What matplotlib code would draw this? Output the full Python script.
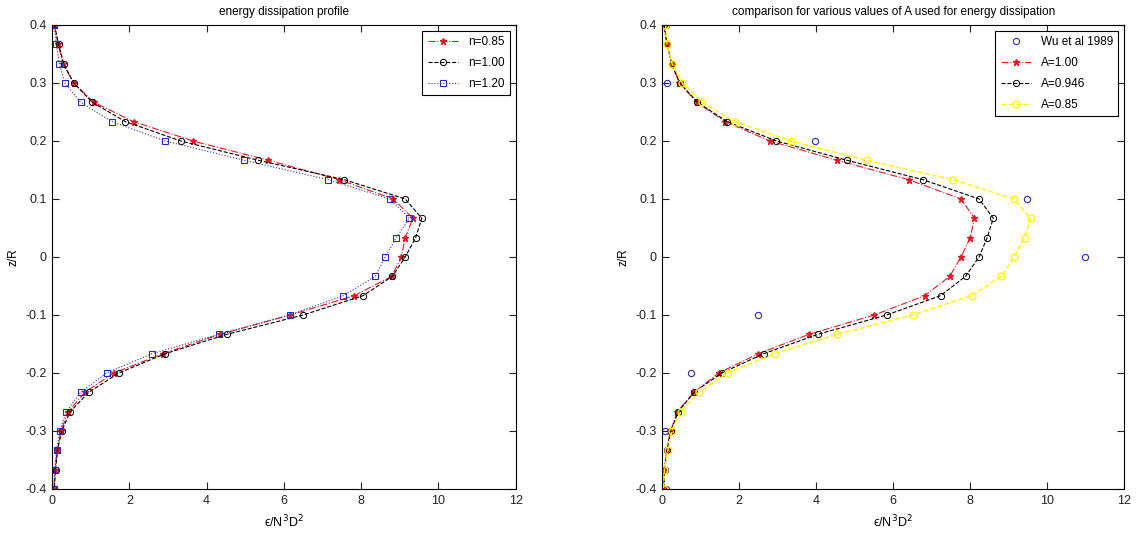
import matplotlib.pyplot as plt
import numpy as np

plt.rcParams['font.family'] = ['Liberation Sans', 'DejaVu Sans']
plt.rcParams['font.size'] = 8

# z/R levels, top to bottom
z = [0.4, 0.3667, 0.3333, 0.3, 0.2667, 0.2333, 0.2, 0.1667, 0.1333, 0.1, 0.0667, 0.0333, 0.0,
     -0.0333, -0.0667, -0.1, -0.1333, -0.1667, -0.2, -0.2333, -0.2667, -0.3, -0.3333, -0.3667, -0.4]

# left panel: energy dissipation profile for different n
n085 = [0.06, 0.16, 0.28, 0.56, 1.08, 2.11, 3.65, 5.60, 7.43, 8.83, 9.34, 9.14, 9.04,
        8.79, 7.82, 6.17, 4.35, 2.87, 1.60, 0.85, 0.42, 0.23, 0.14, 0.07, 0.05]
n100 = [0.06, 0.17, 0.30, 0.56, 1.04, 1.90, 3.33, 5.34, 7.56, 9.14, 9.57, 9.41, 9.14,
        8.81, 8.05, 6.50, 4.53, 2.93, 1.73, 0.95, 0.47, 0.25, 0.14, 0.09, 0.06]
n120 = [0.06, 0.11, 0.19, 0.33, 0.74, 1.55, 2.93, 4.97, 7.15, 8.74, 9.25, 8.91, 8.62,
        8.37, 7.54, 6.15, 4.32, 2.59, 1.41, 0.74, 0.37, 0.20, 0.12, 0.07, 0.06]

# right panel: comparison for various A
wu_z = [0.4, 0.3, 0.2, 0.1, 0.0, -0.1, -0.2, -0.3, -0.4]
wu_x = [0.10, 0.12, 3.98, 9.48, 10.98, 2.48, 0.74, 0.07, 0.10]
a100 = [0.04, 0.13, 0.25, 0.45, 0.90, 1.64, 2.80, 4.54, 6.40, 7.76, 8.11, 8.00, 7.76,
        7.47, 6.82, 5.51, 3.82, 2.50, 1.47, 0.83, 0.40, 0.22, 0.12, 0.06, 0.04]
a0946 = [0.06, 0.13, 0.25, 0.46, 0.92, 1.69, 2.97, 4.80, 6.77, 8.23, 8.60, 8.44, 8.23,
         7.88, 7.23, 5.83, 4.05, 2.64, 1.55, 0.83, 0.42, 0.23, 0.13, 0.07, 0.05]
a085 = [0.09, 0.13, 0.26, 0.53, 1.04, 1.89, 3.34, 5.31, 7.55, 9.13, 9.57, 9.41, 9.14,
        8.81, 8.04, 6.51, 4.54, 2.92, 1.71, 0.95, 0.48, 0.25, 0.15, 0.06, 0.04]

fig = plt.figure(figsize=(11.41, 5.38), dpi=100)
ax1 = fig.add_axes([0.0456, 0.0911, 0.4064, 0.8625])
ax2 = fig.add_axes([0.5802, 0.0911, 0.4052, 0.8625])

blue = '#2b2bb0'
red = '#e01b24'

ax1.plot(n085, z, color=red, ls='-.', lw=0.8, marker='*', ms=5, label='n=0.85')
ax1.plot(n100, z, color='k', ls='--', lw=0.8, marker='o', ms=4.5, mfc='none', mew=0.7, label='n=1.00')
ax1.plot(n120, z, color=blue, ls=':', lw=0.8, marker='s', ms=5, mfc='none', mew=0.8, label='n=1.20')
ax1.set_title('energy dissipation profile', fontsize=8.5, pad=7)

ax2.plot(wu_x, wu_z, ls='none', color=blue, marker='o', ms=4.5, mfc='none', mew=0.8, label='Wu et al 1989')
ax2.plot(a100, z, color=red, ls='-.', lw=0.8, marker='*', ms=5, label='A=1.00')
ax2.plot(a0946, z, color='k', ls='--', lw=0.8, marker='o', ms=4.5, mfc='none', mew=0.7, label='A=0.946')
ax2.plot(a085, z, color='#ffff00', ls='--', lw=1.0, marker='o', ms=5, mfc='none', mew=0.9, label='A=0.85')
ax2.set_title('comparison for various values of A used for energy dissipation', fontsize=8.5, pad=7)

for ax in (ax1, ax2):
    ax.set_xlim(0, 12)
    ax.set_ylim(-0.4, 0.4)
    ax.set_xticks(np.arange(0, 13, 2))
    ax.set_yticks(np.round(np.arange(-0.4, 0.41, 0.1), 1))
    ax.set_yticklabels(['-0.4', '-0.3', '-0.2', '-0.1', '0', '0.1', '0.2', '0.3', '0.4'])
    ax.tick_params(direction='in', top=True, right=True, length=5, width=0.8, labelsize=9,
                   colors='#222222', pad=4)
    for s in ax.spines.values():
        s.set_linewidth(0.8)
    ax.set_xlabel('ϵ/N$^3$D$^2$', fontsize=9, labelpad=5)
    ax.set_ylabel('z/R', fontsize=8.5, labelpad=4)
    leg = ax.legend(loc='upper right', fancybox=False, edgecolor='k', framealpha=1,
                    fontsize=8.5, handlelength=2.6, borderaxespad=0.5, labelspacing=0.75,
                    borderpad=0.45)
    leg.get_frame().set_linewidth(0.8)

fig.savefig('out.png', dpi=100)
